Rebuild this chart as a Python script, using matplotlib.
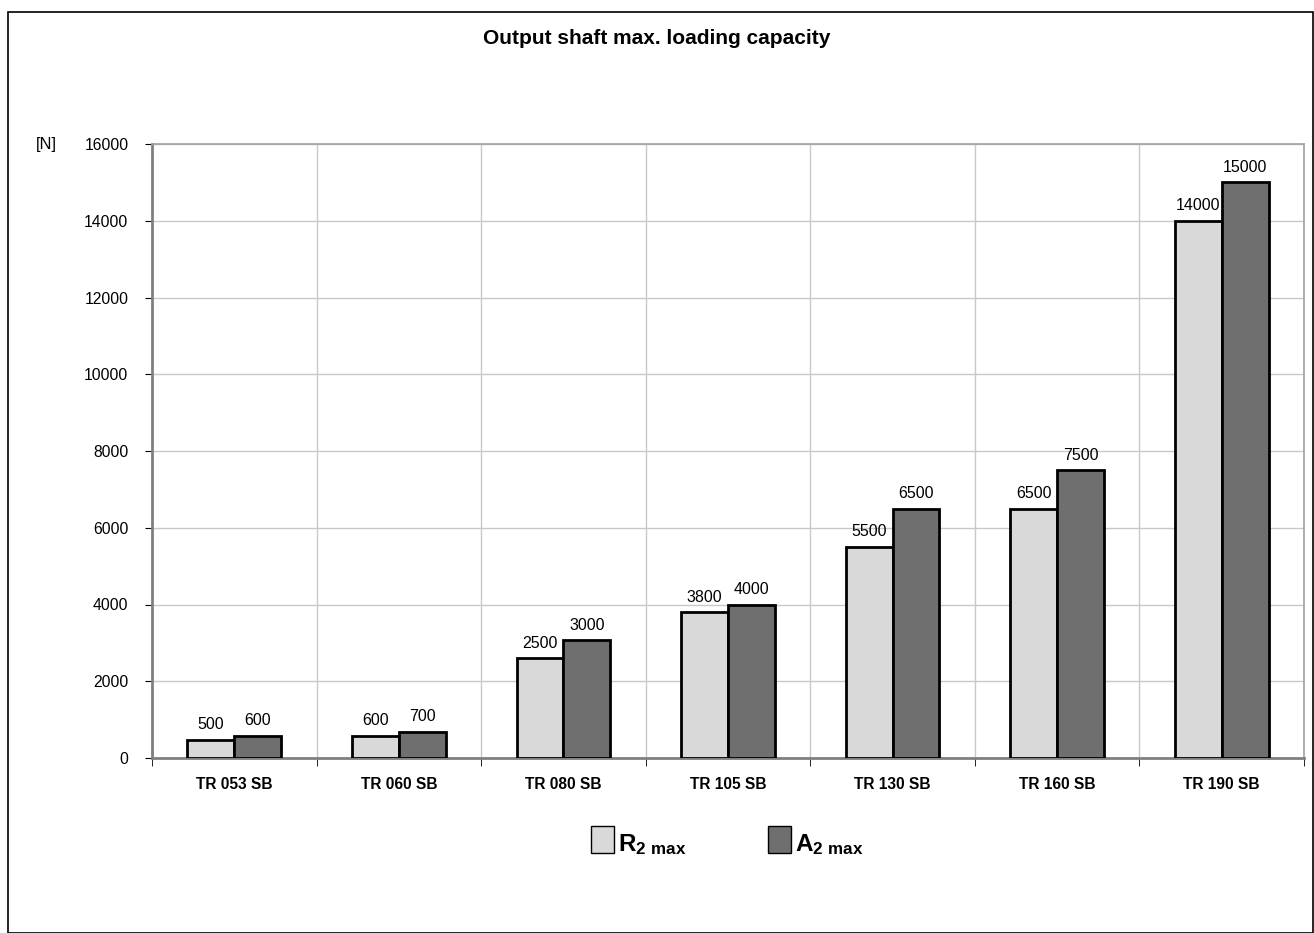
import matplotlib.pyplot as plt
import numpy as np
from matplotlib.patches import Rectangle

# Data
models = ["TR 053 SB", "TR 060 SB", "TR 080 SB", "TR 105 SB", "TR 130 SB", "TR 160 SB", "TR 190 SB"]
r2_values = [480, 570, 2600, 3800, 5500, 6500, 14000]
a2_values = [570, 680, 3070, 4000, 6500, 7500, 15000]
r2_labels = ["500", "600", "2500", "3800", "5500", "6500", "14000"]
a2_labels = ["600", "700", "3000", "4000", "6500", "7500", "15000"]
y_ticks = [0, 2000, 4000, 6000, 8000, 10000, 12000, 14000, 16000]

light = "#d9d9d9"
dark = "#6f6f6f"
grid_col = "#c8c8c8"

plt.rcParams['font.family'] = ['Liberation Sans', 'DejaVu Sans']
plt.rcParams['mathtext.fontset'] = 'custom'
plt.rcParams['mathtext.bf'] = 'Liberation Sans:bold'
plt.rcParams['mathtext.rm'] = 'Liberation Sans'

fig = plt.figure(figsize=(13.14, 9.33), dpi=100)

# outer frame
fig.patches.append(Rectangle((8 / 1314, 0), 1 - 9 / 1314, 1 - 12 / 933, transform=fig.transFigure,
                             fill=False, edgecolor="black", linewidth=1.2))

ax = fig.add_axes([152 / 1314, 1 - 758 / 933, (1304 - 152) / 1314, (758 - 144) / 933])

x = np.arange(len(models))
w = 0.285
ax.bar(x - w / 2, r2_values, w, color=light, edgecolor="black", linewidth=2, zorder=3)
ax.bar(x + w / 2, a2_values, w, color=dark, edgecolor="black", linewidth=2, zorder=3)

for xi, v, t in zip(x, r2_values, r2_labels):
    ax.text(xi - w / 2, v + 200, t, ha="center", va="bottom", fontsize=11.5, zorder=4)
for xi, v, t in zip(x, a2_values, a2_labels):
    ax.text(xi + w / 2, v + 200, t, ha="center", va="bottom", fontsize=11.5, zorder=4)

ax.set_xlim(-0.5, len(models) - 0.5)
ax.set_ylim(0, 16000)
ax.set_yticks(y_ticks)
ax.set_yticklabels([str(v) for v in y_ticks], fontsize=11.3)
ax.set_xticks(x)
ax.set_xticklabels(models, fontsize=11.2, fontweight="bold")
ax.set_xticks(np.arange(len(models) + 1) - 0.5, minor=True)
ax.tick_params(axis="x", which="major", length=0, pad=14)
ax.tick_params(axis="x", which="minor", length=6, color="black", direction="out")
ax.tick_params(axis="y", length=5, color="black", direction="out", pad=12)

ax.grid(axis="y", which="major", color=grid_col, linewidth=1, zorder=0)
ax.grid(axis="x", which="minor", color=grid_col, linewidth=1, zorder=0)
for side in ["top", "right"]:
    ax.spines[side].set_color("#a0a0a0")
    ax.spines[side].set_linewidth(1.2)
ax.spines["left"].set_color("#808080")
ax.spines["left"].set_linewidth(2)
ax.spines["bottom"].set_color("#808080")
ax.spines["bottom"].set_linewidth(2)

fig.text(0.5, 1 - 38 / 933, "Output shaft max. loading capacity", ha="center", va="center",
         fontsize=15, fontweight="bold")
fig.text(46 / 1314, 1 - 144 / 933, "[N]", ha="center", va="center", fontsize=12)

# legend
fig.patches.append(Rectangle((591 / 1314, 1 - 853 / 933), 23 / 1314, 27 / 933, transform=fig.transFigure,
                             facecolor=light, edgecolor="black", linewidth=1))
fig.text(618 / 1314, 1 - 845 / 933, r"$\mathbf{R_{2\ max}}$", ha="left", va="center", fontsize=17.5)
fig.patches.append(Rectangle((768 / 1314, 1 - 853 / 933), 23 / 1314, 27 / 933, transform=fig.transFigure,
                             facecolor=dark, edgecolor="black", linewidth=1))
fig.text(795 / 1314, 1 - 845 / 933, r"$\mathbf{A_{2\ max}}$", ha="left", va="center", fontsize=17.5)

fig.savefig("out.png", dpi=100)
